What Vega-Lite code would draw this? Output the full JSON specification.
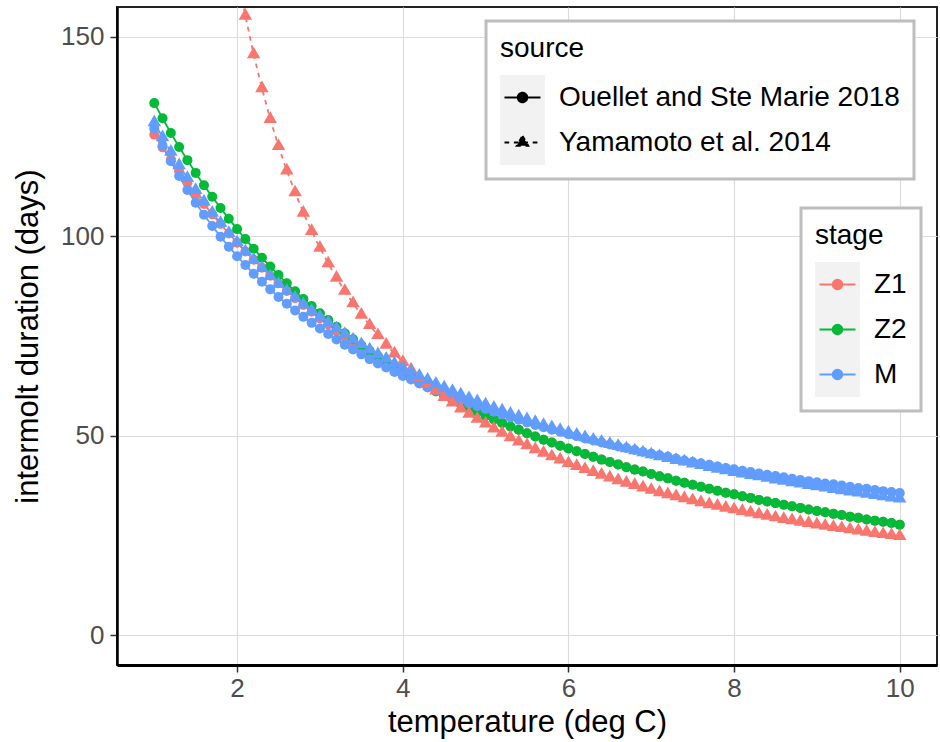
{
"$schema": "https://vega.github.io/schema/vega-lite/v6.json",
"width": 820,
"height": 658,
"autosize": {"type": "none"},
"padding": {"left": 117, "top": 7, "right": 3, "bottom": 77},
"background": "white",
"config": {
"font": "Liberation Sans",
"view": {"stroke": "#222222", "strokeWidth": 2},
"axis": {"grid": true, "gridColor": "#dcdcdc", "gridWidth": 1.2, "domainColor": "#000000", "domainWidth": 2.5, "tickColor": "#333333", "tickSize": 7, "tickWidth": 1.5, "labelFont": "Liberation Sans", "labelFontSize": 26, "labelColor": "#4d4d4d", "titleFont": "Liberation Sans", "titleFontSize": 31, "titleFontWeight": "normal", "titleColor": "#000000"},
"legend": {"titleFont": "Liberation Sans", "titleFontSize": 28, "titleFontWeight": "normal", "titleColor": "#000000", "labelFont": "Liberation Sans", "labelFontSize": 28, "labelColor": "#000000", "padding": 14, "strokeColor": "#bebebe", "strokeWidth": 3, "fillColor": "#ffffff", "symbolSize": 1849, "symbolStrokeWidth": 2, "symbolOpacity": 1, "labelOffset": 14, "rowPadding": 0, "titlePadding": 12, "symbolOffset": 0, "labelLimit": 600}
},
"data": {"values": [
{"t":1.0,"d":125.5,"stage":"Z1","source":"Ouellet and Ste Marie 2018"},{"t":1.1,"d":122.3,"stage":"Z1","source":"Ouellet and Ste Marie 2018"},{"t":1.2,"d":119.2,"stage":"Z1","source":"Ouellet and Ste Marie 2018"},{"t":1.3,"d":116.3,"stage":"Z1","source":"Ouellet and Ste Marie 2018"},{"t":1.4,"d":113.4,"stage":"Z1","source":"Ouellet and Ste Marie 2018"},{"t":1.5,"d":110.7,"stage":"Z1","source":"Ouellet and Ste Marie 2018"},{"t":1.6,"d":108.1,"stage":"Z1","source":"Ouellet and Ste Marie 2018"},{"t":1.7,"d":105.5,"stage":"Z1","source":"Ouellet and Ste Marie 2018"},{"t":1.8,"d":103.1,"stage":"Z1","source":"Ouellet and Ste Marie 2018"},{"t":1.9,"d":100.7,"stage":"Z1","source":"Ouellet and Ste Marie 2018"},
{"t":2.0,"d":98.4,"stage":"Z1","source":"Ouellet and Ste Marie 2018"},{"t":2.1,"d":96.2,"stage":"Z1","source":"Ouellet and Ste Marie 2018"},{"t":2.2,"d":94.1,"stage":"Z1","source":"Ouellet and Ste Marie 2018"},{"t":2.3,"d":92.1,"stage":"Z1","source":"Ouellet and Ste Marie 2018"},{"t":2.4,"d":90.1,"stage":"Z1","source":"Ouellet and Ste Marie 2018"},{"t":2.5,"d":88.2,"stage":"Z1","source":"Ouellet and Ste Marie 2018"},{"t":2.6,"d":86.3,"stage":"Z1","source":"Ouellet and Ste Marie 2018"},{"t":2.7,"d":84.5,"stage":"Z1","source":"Ouellet and Ste Marie 2018"},{"t":2.8,"d":82.8,"stage":"Z1","source":"Ouellet and Ste Marie 2018"},{"t":2.9,"d":81.1,"stage":"Z1","source":"Ouellet and Ste Marie 2018"},
{"t":3.0,"d":79.4,"stage":"Z1","source":"Ouellet and Ste Marie 2018"},{"t":3.1,"d":77.9,"stage":"Z1","source":"Ouellet and Ste Marie 2018"},{"t":3.2,"d":76.3,"stage":"Z1","source":"Ouellet and Ste Marie 2018"},{"t":3.3,"d":74.8,"stage":"Z1","source":"Ouellet and Ste Marie 2018"},{"t":3.4,"d":73.4,"stage":"Z1","source":"Ouellet and Ste Marie 2018"},{"t":3.5,"d":72.0,"stage":"Z1","source":"Ouellet and Ste Marie 2018"},{"t":3.6,"d":70.6,"stage":"Z1","source":"Ouellet and Ste Marie 2018"},{"t":3.7,"d":69.3,"stage":"Z1","source":"Ouellet and Ste Marie 2018"},{"t":3.8,"d":68.0,"stage":"Z1","source":"Ouellet and Ste Marie 2018"},{"t":3.9,"d":66.8,"stage":"Z1","source":"Ouellet and Ste Marie 2018"},
{"t":4.0,"d":65.6,"stage":"Z1","source":"Ouellet and Ste Marie 2018"},{"t":4.1,"d":64.4,"stage":"Z1","source":"Ouellet and Ste Marie 2018"},{"t":4.2,"d":63.3,"stage":"Z1","source":"Ouellet and Ste Marie 2018"},{"t":4.3,"d":62.1,"stage":"Z1","source":"Ouellet and Ste Marie 2018"},{"t":4.4,"d":61.1,"stage":"Z1","source":"Ouellet and Ste Marie 2018"},{"t":4.5,"d":60.0,"stage":"Z1","source":"Ouellet and Ste Marie 2018"},{"t":4.6,"d":59.0,"stage":"Z1","source":"Ouellet and Ste Marie 2018"},{"t":4.7,"d":58.0,"stage":"Z1","source":"Ouellet and Ste Marie 2018"},{"t":4.8,"d":57.0,"stage":"Z1","source":"Ouellet and Ste Marie 2018"},{"t":4.9,"d":56.0,"stage":"Z1","source":"Ouellet and Ste Marie 2018"},
{"t":5.0,"d":55.0,"stage":"Z1","source":"Ouellet and Ste Marie 2018"},{"t":5.1,"d":54.1,"stage":"Z1","source":"Ouellet and Ste Marie 2018"},{"t":5.2,"d":53.2,"stage":"Z1","source":"Ouellet and Ste Marie 2018"},{"t":5.3,"d":52.3,"stage":"Z1","source":"Ouellet and Ste Marie 2018"},{"t":5.4,"d":51.5,"stage":"Z1","source":"Ouellet and Ste Marie 2018"},{"t":5.5,"d":50.6,"stage":"Z1","source":"Ouellet and Ste Marie 2018"},{"t":5.6,"d":49.8,"stage":"Z1","source":"Ouellet and Ste Marie 2018"},{"t":5.7,"d":49.0,"stage":"Z1","source":"Ouellet and Ste Marie 2018"},{"t":5.8,"d":48.3,"stage":"Z1","source":"Ouellet and Ste Marie 2018"},{"t":5.9,"d":47.5,"stage":"Z1","source":"Ouellet and Ste Marie 2018"},
{"t":6.0,"d":46.8,"stage":"Z1","source":"Ouellet and Ste Marie 2018"},{"t":6.1,"d":46.1,"stage":"Z1","source":"Ouellet and Ste Marie 2018"},{"t":6.2,"d":45.4,"stage":"Z1","source":"Ouellet and Ste Marie 2018"},{"t":6.3,"d":44.7,"stage":"Z1","source":"Ouellet and Ste Marie 2018"},{"t":6.4,"d":44.0,"stage":"Z1","source":"Ouellet and Ste Marie 2018"},{"t":6.5,"d":43.4,"stage":"Z1","source":"Ouellet and Ste Marie 2018"},{"t":6.6,"d":42.8,"stage":"Z1","source":"Ouellet and Ste Marie 2018"},{"t":6.7,"d":42.1,"stage":"Z1","source":"Ouellet and Ste Marie 2018"},{"t":6.8,"d":41.5,"stage":"Z1","source":"Ouellet and Ste Marie 2018"},{"t":6.9,"d":41.0,"stage":"Z1","source":"Ouellet and Ste Marie 2018"},
{"t":7.0,"d":40.4,"stage":"Z1","source":"Ouellet and Ste Marie 2018"},{"t":7.1,"d":39.8,"stage":"Z1","source":"Ouellet and Ste Marie 2018"},{"t":7.2,"d":39.3,"stage":"Z1","source":"Ouellet and Ste Marie 2018"},{"t":7.3,"d":38.7,"stage":"Z1","source":"Ouellet and Ste Marie 2018"},{"t":7.4,"d":38.2,"stage":"Z1","source":"Ouellet and Ste Marie 2018"},{"t":7.5,"d":37.7,"stage":"Z1","source":"Ouellet and Ste Marie 2018"},{"t":7.6,"d":37.2,"stage":"Z1","source":"Ouellet and Ste Marie 2018"},{"t":7.7,"d":36.7,"stage":"Z1","source":"Ouellet and Ste Marie 2018"},{"t":7.8,"d":36.2,"stage":"Z1","source":"Ouellet and Ste Marie 2018"},{"t":7.9,"d":35.7,"stage":"Z1","source":"Ouellet and Ste Marie 2018"},
{"t":8.0,"d":35.3,"stage":"Z1","source":"Ouellet and Ste Marie 2018"},{"t":8.1,"d":34.8,"stage":"Z1","source":"Ouellet and Ste Marie 2018"},{"t":8.2,"d":34.4,"stage":"Z1","source":"Ouellet and Ste Marie 2018"},{"t":8.3,"d":33.9,"stage":"Z1","source":"Ouellet and Ste Marie 2018"},{"t":8.4,"d":33.5,"stage":"Z1","source":"Ouellet and Ste Marie 2018"},{"t":8.5,"d":33.1,"stage":"Z1","source":"Ouellet and Ste Marie 2018"},{"t":8.6,"d":32.7,"stage":"Z1","source":"Ouellet and Ste Marie 2018"},{"t":8.7,"d":32.3,"stage":"Z1","source":"Ouellet and Ste Marie 2018"},{"t":8.8,"d":31.9,"stage":"Z1","source":"Ouellet and Ste Marie 2018"},{"t":8.9,"d":31.5,"stage":"Z1","source":"Ouellet and Ste Marie 2018"},
{"t":9.0,"d":31.1,"stage":"Z1","source":"Ouellet and Ste Marie 2018"},{"t":9.1,"d":30.8,"stage":"Z1","source":"Ouellet and Ste Marie 2018"},{"t":9.2,"d":30.4,"stage":"Z1","source":"Ouellet and Ste Marie 2018"},{"t":9.3,"d":30.1,"stage":"Z1","source":"Ouellet and Ste Marie 2018"},{"t":9.4,"d":29.7,"stage":"Z1","source":"Ouellet and Ste Marie 2018"},{"t":9.5,"d":29.4,"stage":"Z1","source":"Ouellet and Ste Marie 2018"},{"t":9.6,"d":29.0,"stage":"Z1","source":"Ouellet and Ste Marie 2018"},{"t":9.7,"d":28.7,"stage":"Z1","source":"Ouellet and Ste Marie 2018"},{"t":9.8,"d":28.4,"stage":"Z1","source":"Ouellet and Ste Marie 2018"},{"t":9.9,"d":28.1,"stage":"Z1","source":"Ouellet and Ste Marie 2018"},
{"t":10.0,"d":27.7,"stage":"Z1","source":"Ouellet and Ste Marie 2018"},
{"t":1.0,"d":133.4,"stage":"Z2","source":"Ouellet and Ste Marie 2018"},{"t":1.1,"d":129.6,"stage":"Z2","source":"Ouellet and Ste Marie 2018"},{"t":1.2,"d":125.9,"stage":"Z2","source":"Ouellet and Ste Marie 2018"},{"t":1.3,"d":122.4,"stage":"Z2","source":"Ouellet and Ste Marie 2018"},{"t":1.4,"d":119.1,"stage":"Z2","source":"Ouellet and Ste Marie 2018"},{"t":1.5,"d":115.9,"stage":"Z2","source":"Ouellet and Ste Marie 2018"},{"t":1.6,"d":112.8,"stage":"Z2","source":"Ouellet and Ste Marie 2018"},{"t":1.7,"d":109.9,"stage":"Z2","source":"Ouellet and Ste Marie 2018"},{"t":1.8,"d":107.1,"stage":"Z2","source":"Ouellet and Ste Marie 2018"},{"t":1.9,"d":104.4,"stage":"Z2","source":"Ouellet and Ste Marie 2018"},
{"t":2.0,"d":101.8,"stage":"Z2","source":"Ouellet and Ste Marie 2018"},{"t":2.1,"d":99.3,"stage":"Z2","source":"Ouellet and Ste Marie 2018"},{"t":2.2,"d":96.9,"stage":"Z2","source":"Ouellet and Ste Marie 2018"},{"t":2.3,"d":94.6,"stage":"Z2","source":"Ouellet and Ste Marie 2018"},{"t":2.4,"d":92.4,"stage":"Z2","source":"Ouellet and Ste Marie 2018"},{"t":2.5,"d":90.3,"stage":"Z2","source":"Ouellet and Ste Marie 2018"},{"t":2.6,"d":88.2,"stage":"Z2","source":"Ouellet and Ste Marie 2018"},{"t":2.7,"d":86.2,"stage":"Z2","source":"Ouellet and Ste Marie 2018"},{"t":2.8,"d":84.3,"stage":"Z2","source":"Ouellet and Ste Marie 2018"},{"t":2.9,"d":82.5,"stage":"Z2","source":"Ouellet and Ste Marie 2018"},
{"t":3.0,"d":80.7,"stage":"Z2","source":"Ouellet and Ste Marie 2018"},{"t":3.1,"d":79.0,"stage":"Z2","source":"Ouellet and Ste Marie 2018"},{"t":3.2,"d":77.3,"stage":"Z2","source":"Ouellet and Ste Marie 2018"},{"t":3.3,"d":75.7,"stage":"Z2","source":"Ouellet and Ste Marie 2018"},{"t":3.4,"d":74.2,"stage":"Z2","source":"Ouellet and Ste Marie 2018"},{"t":3.5,"d":72.7,"stage":"Z2","source":"Ouellet and Ste Marie 2018"},{"t":3.6,"d":71.3,"stage":"Z2","source":"Ouellet and Ste Marie 2018"},{"t":3.7,"d":69.9,"stage":"Z2","source":"Ouellet and Ste Marie 2018"},{"t":3.8,"d":68.5,"stage":"Z2","source":"Ouellet and Ste Marie 2018"},{"t":3.9,"d":67.2,"stage":"Z2","source":"Ouellet and Ste Marie 2018"},
{"t":4.0,"d":65.9,"stage":"Z2","source":"Ouellet and Ste Marie 2018"},{"t":4.1,"d":64.7,"stage":"Z2","source":"Ouellet and Ste Marie 2018"},{"t":4.2,"d":63.5,"stage":"Z2","source":"Ouellet and Ste Marie 2018"},{"t":4.3,"d":62.3,"stage":"Z2","source":"Ouellet and Ste Marie 2018"},{"t":4.4,"d":61.2,"stage":"Z2","source":"Ouellet and Ste Marie 2018"},{"t":4.5,"d":60.1,"stage":"Z2","source":"Ouellet and Ste Marie 2018"},{"t":4.6,"d":59.0,"stage":"Z2","source":"Ouellet and Ste Marie 2018"},{"t":4.7,"d":58.0,"stage":"Z2","source":"Ouellet and Ste Marie 2018"},{"t":4.8,"d":57.0,"stage":"Z2","source":"Ouellet and Ste Marie 2018"},{"t":4.9,"d":56.0,"stage":"Z2","source":"Ouellet and Ste Marie 2018"},
{"t":5.0,"d":55.0,"stage":"Z2","source":"Ouellet and Ste Marie 2018"},{"t":5.1,"d":54.1,"stage":"Z2","source":"Ouellet and Ste Marie 2018"},{"t":5.2,"d":53.2,"stage":"Z2","source":"Ouellet and Ste Marie 2018"},{"t":5.3,"d":52.3,"stage":"Z2","source":"Ouellet and Ste Marie 2018"},{"t":5.4,"d":51.5,"stage":"Z2","source":"Ouellet and Ste Marie 2018"},{"t":5.5,"d":50.6,"stage":"Z2","source":"Ouellet and Ste Marie 2018"},{"t":5.6,"d":49.8,"stage":"Z2","source":"Ouellet and Ste Marie 2018"},{"t":5.7,"d":49.0,"stage":"Z2","source":"Ouellet and Ste Marie 2018"},{"t":5.8,"d":48.3,"stage":"Z2","source":"Ouellet and Ste Marie 2018"},{"t":5.9,"d":47.5,"stage":"Z2","source":"Ouellet and Ste Marie 2018"},
{"t":6.0,"d":46.8,"stage":"Z2","source":"Ouellet and Ste Marie 2018"},{"t":6.1,"d":46.1,"stage":"Z2","source":"Ouellet and Ste Marie 2018"},{"t":6.2,"d":45.4,"stage":"Z2","source":"Ouellet and Ste Marie 2018"},{"t":6.3,"d":44.7,"stage":"Z2","source":"Ouellet and Ste Marie 2018"},{"t":6.4,"d":44.0,"stage":"Z2","source":"Ouellet and Ste Marie 2018"},{"t":6.5,"d":43.4,"stage":"Z2","source":"Ouellet and Ste Marie 2018"},{"t":6.6,"d":42.8,"stage":"Z2","source":"Ouellet and Ste Marie 2018"},{"t":6.7,"d":42.1,"stage":"Z2","source":"Ouellet and Ste Marie 2018"},{"t":6.8,"d":41.5,"stage":"Z2","source":"Ouellet and Ste Marie 2018"},{"t":6.9,"d":41.0,"stage":"Z2","source":"Ouellet and Ste Marie 2018"},
{"t":7.0,"d":40.4,"stage":"Z2","source":"Ouellet and Ste Marie 2018"},{"t":7.1,"d":39.8,"stage":"Z2","source":"Ouellet and Ste Marie 2018"},{"t":7.2,"d":39.3,"stage":"Z2","source":"Ouellet and Ste Marie 2018"},{"t":7.3,"d":38.7,"stage":"Z2","source":"Ouellet and Ste Marie 2018"},{"t":7.4,"d":38.2,"stage":"Z2","source":"Ouellet and Ste Marie 2018"},{"t":7.5,"d":37.7,"stage":"Z2","source":"Ouellet and Ste Marie 2018"},{"t":7.6,"d":37.2,"stage":"Z2","source":"Ouellet and Ste Marie 2018"},{"t":7.7,"d":36.7,"stage":"Z2","source":"Ouellet and Ste Marie 2018"},{"t":7.8,"d":36.2,"stage":"Z2","source":"Ouellet and Ste Marie 2018"},{"t":7.9,"d":35.7,"stage":"Z2","source":"Ouellet and Ste Marie 2018"},
{"t":8.0,"d":35.3,"stage":"Z2","source":"Ouellet and Ste Marie 2018"},{"t":8.1,"d":34.8,"stage":"Z2","source":"Ouellet and Ste Marie 2018"},{"t":8.2,"d":34.4,"stage":"Z2","source":"Ouellet and Ste Marie 2018"},{"t":8.3,"d":33.9,"stage":"Z2","source":"Ouellet and Ste Marie 2018"},{"t":8.4,"d":33.5,"stage":"Z2","source":"Ouellet and Ste Marie 2018"},{"t":8.5,"d":33.1,"stage":"Z2","source":"Ouellet and Ste Marie 2018"},{"t":8.6,"d":32.7,"stage":"Z2","source":"Ouellet and Ste Marie 2018"},{"t":8.7,"d":32.3,"stage":"Z2","source":"Ouellet and Ste Marie 2018"},{"t":8.8,"d":31.9,"stage":"Z2","source":"Ouellet and Ste Marie 2018"},{"t":8.9,"d":31.5,"stage":"Z2","source":"Ouellet and Ste Marie 2018"},
{"t":9.0,"d":31.1,"stage":"Z2","source":"Ouellet and Ste Marie 2018"},{"t":9.1,"d":30.8,"stage":"Z2","source":"Ouellet and Ste Marie 2018"},{"t":9.2,"d":30.4,"stage":"Z2","source":"Ouellet and Ste Marie 2018"},{"t":9.3,"d":30.1,"stage":"Z2","source":"Ouellet and Ste Marie 2018"},{"t":9.4,"d":29.7,"stage":"Z2","source":"Ouellet and Ste Marie 2018"},{"t":9.5,"d":29.4,"stage":"Z2","source":"Ouellet and Ste Marie 2018"},{"t":9.6,"d":29.0,"stage":"Z2","source":"Ouellet and Ste Marie 2018"},{"t":9.7,"d":28.7,"stage":"Z2","source":"Ouellet and Ste Marie 2018"},{"t":9.8,"d":28.4,"stage":"Z2","source":"Ouellet and Ste Marie 2018"},{"t":9.9,"d":28.1,"stage":"Z2","source":"Ouellet and Ste Marie 2018"},
{"t":10.0,"d":27.7,"stage":"Z2","source":"Ouellet and Ste Marie 2018"},
{"t":1.0,"d":127.0,"stage":"M","source":"Ouellet and Ste Marie 2018"},{"t":1.1,"d":122.7,"stage":"M","source":"Ouellet and Ste Marie 2018"},{"t":1.2,"d":118.8,"stage":"M","source":"Ouellet and Ste Marie 2018"},{"t":1.3,"d":115.1,"stage":"M","source":"Ouellet and Ste Marie 2018"},{"t":1.4,"d":111.6,"stage":"M","source":"Ouellet and Ste Marie 2018"},{"t":1.5,"d":108.4,"stage":"M","source":"Ouellet and Ste Marie 2018"},{"t":1.6,"d":105.4,"stage":"M","source":"Ouellet and Ste Marie 2018"},{"t":1.7,"d":102.6,"stage":"M","source":"Ouellet and Ste Marie 2018"},{"t":1.8,"d":99.9,"stage":"M","source":"Ouellet and Ste Marie 2018"},{"t":1.9,"d":97.4,"stage":"M","source":"Ouellet and Ste Marie 2018"},
{"t":2.0,"d":95.0,"stage":"M","source":"Ouellet and Ste Marie 2018"},{"t":2.1,"d":92.8,"stage":"M","source":"Ouellet and Ste Marie 2018"},{"t":2.2,"d":90.6,"stage":"M","source":"Ouellet and Ste Marie 2018"},{"t":2.3,"d":88.6,"stage":"M","source":"Ouellet and Ste Marie 2018"},{"t":2.4,"d":86.7,"stage":"M","source":"Ouellet and Ste Marie 2018"},{"t":2.5,"d":84.8,"stage":"M","source":"Ouellet and Ste Marie 2018"},{"t":2.6,"d":83.1,"stage":"M","source":"Ouellet and Ste Marie 2018"},{"t":2.7,"d":81.4,"stage":"M","source":"Ouellet and Ste Marie 2018"},{"t":2.8,"d":79.8,"stage":"M","source":"Ouellet and Ste Marie 2018"},{"t":2.9,"d":78.3,"stage":"M","source":"Ouellet and Ste Marie 2018"},
{"t":3.0,"d":76.9,"stage":"M","source":"Ouellet and Ste Marie 2018"},{"t":3.1,"d":75.5,"stage":"M","source":"Ouellet and Ste Marie 2018"},{"t":3.2,"d":74.1,"stage":"M","source":"Ouellet and Ste Marie 2018"},{"t":3.3,"d":72.8,"stage":"M","source":"Ouellet and Ste Marie 2018"},{"t":3.4,"d":71.6,"stage":"M","source":"Ouellet and Ste Marie 2018"},{"t":3.5,"d":70.4,"stage":"M","source":"Ouellet and Ste Marie 2018"},{"t":3.6,"d":69.2,"stage":"M","source":"Ouellet and Ste Marie 2018"},{"t":3.7,"d":68.1,"stage":"M","source":"Ouellet and Ste Marie 2018"},{"t":3.8,"d":67.1,"stage":"M","source":"Ouellet and Ste Marie 2018"},{"t":3.9,"d":66.0,"stage":"M","source":"Ouellet and Ste Marie 2018"},
{"t":4.0,"d":65.0,"stage":"M","source":"Ouellet and Ste Marie 2018"},{"t":4.1,"d":64.1,"stage":"M","source":"Ouellet and Ste Marie 2018"},{"t":4.2,"d":63.1,"stage":"M","source":"Ouellet and Ste Marie 2018"},{"t":4.3,"d":62.2,"stage":"M","source":"Ouellet and Ste Marie 2018"},{"t":4.4,"d":61.4,"stage":"M","source":"Ouellet and Ste Marie 2018"},{"t":4.5,"d":60.5,"stage":"M","source":"Ouellet and Ste Marie 2018"},{"t":4.6,"d":59.7,"stage":"M","source":"Ouellet and Ste Marie 2018"},{"t":4.7,"d":58.9,"stage":"M","source":"Ouellet and Ste Marie 2018"},{"t":4.8,"d":58.1,"stage":"M","source":"Ouellet and Ste Marie 2018"},{"t":4.9,"d":57.4,"stage":"M","source":"Ouellet and Ste Marie 2018"},
{"t":5.0,"d":56.7,"stage":"M","source":"Ouellet and Ste Marie 2018"},{"t":5.1,"d":56.0,"stage":"M","source":"Ouellet and Ste Marie 2018"},{"t":5.2,"d":55.3,"stage":"M","source":"Ouellet and Ste Marie 2018"},{"t":5.3,"d":54.6,"stage":"M","source":"Ouellet and Ste Marie 2018"},{"t":5.4,"d":54.0,"stage":"M","source":"Ouellet and Ste Marie 2018"},{"t":5.5,"d":53.3,"stage":"M","source":"Ouellet and Ste Marie 2018"},{"t":5.6,"d":52.7,"stage":"M","source":"Ouellet and Ste Marie 2018"},{"t":5.7,"d":52.1,"stage":"M","source":"Ouellet and Ste Marie 2018"},{"t":5.8,"d":51.5,"stage":"M","source":"Ouellet and Ste Marie 2018"},{"t":5.9,"d":51.0,"stage":"M","source":"Ouellet and Ste Marie 2018"},
{"t":6.0,"d":50.4,"stage":"M","source":"Ouellet and Ste Marie 2018"},{"t":6.1,"d":49.9,"stage":"M","source":"Ouellet and Ste Marie 2018"},{"t":6.2,"d":49.3,"stage":"M","source":"Ouellet and Ste Marie 2018"},{"t":6.3,"d":48.8,"stage":"M","source":"Ouellet and Ste Marie 2018"},{"t":6.4,"d":48.3,"stage":"M","source":"Ouellet and Ste Marie 2018"},{"t":6.5,"d":47.8,"stage":"M","source":"Ouellet and Ste Marie 2018"},{"t":6.6,"d":47.3,"stage":"M","source":"Ouellet and Ste Marie 2018"},{"t":6.7,"d":46.9,"stage":"M","source":"Ouellet and Ste Marie 2018"},{"t":6.8,"d":46.4,"stage":"M","source":"Ouellet and Ste Marie 2018"},{"t":6.9,"d":45.9,"stage":"M","source":"Ouellet and Ste Marie 2018"},
{"t":7.0,"d":45.5,"stage":"M","source":"Ouellet and Ste Marie 2018"},{"t":7.1,"d":45.1,"stage":"M","source":"Ouellet and Ste Marie 2018"},{"t":7.2,"d":44.7,"stage":"M","source":"Ouellet and Ste Marie 2018"},{"t":7.3,"d":44.2,"stage":"M","source":"Ouellet and Ste Marie 2018"},{"t":7.4,"d":43.8,"stage":"M","source":"Ouellet and Ste Marie 2018"},{"t":7.5,"d":43.4,"stage":"M","source":"Ouellet and Ste Marie 2018"},{"t":7.6,"d":43.1,"stage":"M","source":"Ouellet and Ste Marie 2018"},{"t":7.7,"d":42.7,"stage":"M","source":"Ouellet and Ste Marie 2018"},{"t":7.8,"d":42.3,"stage":"M","source":"Ouellet and Ste Marie 2018"},{"t":7.9,"d":41.9,"stage":"M","source":"Ouellet and Ste Marie 2018"},
{"t":8.0,"d":41.6,"stage":"M","source":"Ouellet and Ste Marie 2018"},{"t":8.1,"d":41.2,"stage":"M","source":"Ouellet and Ste Marie 2018"},{"t":8.2,"d":40.9,"stage":"M","source":"Ouellet and Ste Marie 2018"},{"t":8.3,"d":40.5,"stage":"M","source":"Ouellet and Ste Marie 2018"},{"t":8.4,"d":40.2,"stage":"M","source":"Ouellet and Ste Marie 2018"},{"t":8.5,"d":39.9,"stage":"M","source":"Ouellet and Ste Marie 2018"},{"t":8.6,"d":39.6,"stage":"M","source":"Ouellet and Ste Marie 2018"},{"t":8.7,"d":39.2,"stage":"M","source":"Ouellet and Ste Marie 2018"},{"t":8.8,"d":38.9,"stage":"M","source":"Ouellet and Ste Marie 2018"},{"t":8.9,"d":38.6,"stage":"M","source":"Ouellet and Ste Marie 2018"},
{"t":9.0,"d":38.3,"stage":"M","source":"Ouellet and Ste Marie 2018"},{"t":9.1,"d":38.0,"stage":"M","source":"Ouellet and Ste Marie 2018"},{"t":9.2,"d":37.8,"stage":"M","source":"Ouellet and Ste Marie 2018"},{"t":9.3,"d":37.5,"stage":"M","source":"Ouellet and Ste Marie 2018"},{"t":9.4,"d":37.2,"stage":"M","source":"Ouellet and Ste Marie 2018"},{"t":9.5,"d":36.9,"stage":"M","source":"Ouellet and Ste Marie 2018"},{"t":9.6,"d":36.7,"stage":"M","source":"Ouellet and Ste Marie 2018"},{"t":9.7,"d":36.4,"stage":"M","source":"Ouellet and Ste Marie 2018"},{"t":9.8,"d":36.1,"stage":"M","source":"Ouellet and Ste Marie 2018"},{"t":9.9,"d":35.9,"stage":"M","source":"Ouellet and Ste Marie 2018"},
{"t":10.0,"d":35.6,"stage":"M","source":"Ouellet and Ste Marie 2018"},
{"t":2.0,"d":166.4,"stage":"Z1","source":"Yamamoto et al. 2014"},{"t":2.1,"d":155.3,"stage":"Z1","source":"Yamamoto et al. 2014"},{"t":2.2,"d":145.6,"stage":"Z1","source":"Yamamoto et al. 2014"},{"t":2.3,"d":137.1,"stage":"Z1","source":"Yamamoto et al. 2014"},{"t":2.4,"d":129.4,"stage":"Z1","source":"Yamamoto et al. 2014"},{"t":2.5,"d":122.6,"stage":"Z1","source":"Yamamoto et al. 2014"},{"t":2.6,"d":116.5,"stage":"Z1","source":"Yamamoto et al. 2014"},{"t":2.7,"d":111.0,"stage":"Z1","source":"Yamamoto et al. 2014"},{"t":2.8,"d":105.9,"stage":"Z1","source":"Yamamoto et al. 2014"},{"t":2.9,"d":101.3,"stage":"Z1","source":"Yamamoto et al. 2014"},
{"t":3.0,"d":97.1,"stage":"Z1","source":"Yamamoto et al. 2014"},{"t":3.1,"d":93.2,"stage":"Z1","source":"Yamamoto et al. 2014"},{"t":3.2,"d":89.6,"stage":"Z1","source":"Yamamoto et al. 2014"},{"t":3.3,"d":86.3,"stage":"Z1","source":"Yamamoto et al. 2014"},{"t":3.4,"d":83.2,"stage":"Z1","source":"Yamamoto et al. 2014"},{"t":3.5,"d":80.3,"stage":"Z1","source":"Yamamoto et al. 2014"},{"t":3.6,"d":77.7,"stage":"Z1","source":"Yamamoto et al. 2014"},{"t":3.7,"d":75.2,"stage":"Z1","source":"Yamamoto et al. 2014"},{"t":3.8,"d":72.8,"stage":"Z1","source":"Yamamoto et al. 2014"},{"t":3.9,"d":70.6,"stage":"Z1","source":"Yamamoto et al. 2014"},
{"t":4.0,"d":68.5,"stage":"Z1","source":"Yamamoto et al. 2014"},{"t":4.1,"d":66.6,"stage":"Z1","source":"Yamamoto et al. 2014"},{"t":4.2,"d":64.7,"stage":"Z1","source":"Yamamoto et al. 2014"},{"t":4.3,"d":63.0,"stage":"Z1","source":"Yamamoto et al. 2014"},{"t":4.4,"d":61.3,"stage":"Z1","source":"Yamamoto et al. 2014"},{"t":4.5,"d":59.7,"stage":"Z1","source":"Yamamoto et al. 2014"},{"t":4.6,"d":58.3,"stage":"Z1","source":"Yamamoto et al. 2014"},{"t":4.7,"d":56.8,"stage":"Z1","source":"Yamamoto et al. 2014"},{"t":4.8,"d":55.5,"stage":"Z1","source":"Yamamoto et al. 2014"},{"t":4.9,"d":54.2,"stage":"Z1","source":"Yamamoto et al. 2014"},
{"t":5.0,"d":53.0,"stage":"Z1","source":"Yamamoto et al. 2014"},{"t":5.1,"d":51.8,"stage":"Z1","source":"Yamamoto et al. 2014"},{"t":5.2,"d":50.7,"stage":"Z1","source":"Yamamoto et al. 2014"},{"t":5.3,"d":49.6,"stage":"Z1","source":"Yamamoto et al. 2014"},{"t":5.4,"d":48.5,"stage":"Z1","source":"Yamamoto et al. 2014"},{"t":5.5,"d":47.6,"stage":"Z1","source":"Yamamoto et al. 2014"},{"t":5.6,"d":46.6,"stage":"Z1","source":"Yamamoto et al. 2014"},{"t":5.7,"d":45.7,"stage":"Z1","source":"Yamamoto et al. 2014"},{"t":5.8,"d":44.8,"stage":"Z1","source":"Yamamoto et al. 2014"},{"t":5.9,"d":44.0,"stage":"Z1","source":"Yamamoto et al. 2014"},
{"t":6.0,"d":43.1,"stage":"Z1","source":"Yamamoto et al. 2014"},{"t":6.1,"d":42.4,"stage":"Z1","source":"Yamamoto et al. 2014"},{"t":6.2,"d":41.6,"stage":"Z1","source":"Yamamoto et al. 2014"},{"t":6.3,"d":40.9,"stage":"Z1","source":"Yamamoto et al. 2014"},{"t":6.4,"d":40.2,"stage":"Z1","source":"Yamamoto et al. 2014"},{"t":6.5,"d":39.5,"stage":"Z1","source":"Yamamoto et al. 2014"},{"t":6.6,"d":38.8,"stage":"Z1","source":"Yamamoto et al. 2014"},{"t":6.7,"d":38.2,"stage":"Z1","source":"Yamamoto et al. 2014"},{"t":6.8,"d":37.6,"stage":"Z1","source":"Yamamoto et al. 2014"},{"t":6.9,"d":37.0,"stage":"Z1","source":"Yamamoto et al. 2014"},
{"t":7.0,"d":36.4,"stage":"Z1","source":"Yamamoto et al. 2014"},{"t":7.1,"d":35.8,"stage":"Z1","source":"Yamamoto et al. 2014"},{"t":7.2,"d":35.3,"stage":"Z1","source":"Yamamoto et al. 2014"},{"t":7.3,"d":34.8,"stage":"Z1","source":"Yamamoto et al. 2014"},{"t":7.4,"d":34.3,"stage":"Z1","source":"Yamamoto et al. 2014"},{"t":7.5,"d":33.8,"stage":"Z1","source":"Yamamoto et al. 2014"},{"t":7.6,"d":33.3,"stage":"Z1","source":"Yamamoto et al. 2014"},{"t":7.7,"d":32.8,"stage":"Z1","source":"Yamamoto et al. 2014"},{"t":7.8,"d":32.4,"stage":"Z1","source":"Yamamoto et al. 2014"},{"t":7.9,"d":31.9,"stage":"Z1","source":"Yamamoto et al. 2014"},
{"t":8.0,"d":31.5,"stage":"Z1","source":"Yamamoto et al. 2014"},{"t":8.1,"d":31.1,"stage":"Z1","source":"Yamamoto et al. 2014"},{"t":8.2,"d":30.7,"stage":"Z1","source":"Yamamoto et al. 2014"},{"t":8.3,"d":30.3,"stage":"Z1","source":"Yamamoto et al. 2014"},{"t":8.4,"d":29.9,"stage":"Z1","source":"Yamamoto et al. 2014"},{"t":8.5,"d":29.5,"stage":"Z1","source":"Yamamoto et al. 2014"},{"t":8.6,"d":29.1,"stage":"Z1","source":"Yamamoto et al. 2014"},{"t":8.7,"d":28.8,"stage":"Z1","source":"Yamamoto et al. 2014"},{"t":8.8,"d":28.4,"stage":"Z1","source":"Yamamoto et al. 2014"},{"t":8.9,"d":28.1,"stage":"Z1","source":"Yamamoto et al. 2014"},
{"t":9.0,"d":27.7,"stage":"Z1","source":"Yamamoto et al. 2014"},{"t":9.1,"d":27.4,"stage":"Z1","source":"Yamamoto et al. 2014"},{"t":9.2,"d":27.1,"stage":"Z1","source":"Yamamoto et al. 2014"},{"t":9.3,"d":26.8,"stage":"Z1","source":"Yamamoto et al. 2014"},{"t":9.4,"d":26.5,"stage":"Z1","source":"Yamamoto et al. 2014"},{"t":9.5,"d":26.2,"stage":"Z1","source":"Yamamoto et al. 2014"},{"t":9.6,"d":25.9,"stage":"Z1","source":"Yamamoto et al. 2014"},{"t":9.7,"d":25.6,"stage":"Z1","source":"Yamamoto et al. 2014"},{"t":9.8,"d":25.3,"stage":"Z1","source":"Yamamoto et al. 2014"},{"t":9.9,"d":25.1,"stage":"Z1","source":"Yamamoto et al. 2014"},
{"t":10.0,"d":24.8,"stage":"Z1","source":"Yamamoto et al. 2014"},
{"t":1.0,"d":128.6,"stage":"M","source":"Yamamoto et al. 2014"},{"t":1.1,"d":124.8,"stage":"M","source":"Yamamoto et al. 2014"},{"t":1.2,"d":121.2,"stage":"M","source":"Yamamoto et al. 2014"},{"t":1.3,"d":117.8,"stage":"M","source":"Yamamoto et al. 2014"},{"t":1.4,"d":114.6,"stage":"M","source":"Yamamoto et al. 2014"},{"t":1.5,"d":111.6,"stage":"M","source":"Yamamoto et al. 2014"},{"t":1.6,"d":108.7,"stage":"M","source":"Yamamoto et al. 2014"},{"t":1.7,"d":105.9,"stage":"M","source":"Yamamoto et al. 2014"},{"t":1.8,"d":103.3,"stage":"M","source":"Yamamoto et al. 2014"},{"t":1.9,"d":100.8,"stage":"M","source":"Yamamoto et al. 2014"},
{"t":2.0,"d":98.5,"stage":"M","source":"Yamamoto et al. 2014"},{"t":2.1,"d":96.2,"stage":"M","source":"Yamamoto et al. 2014"},{"t":2.2,"d":94.1,"stage":"M","source":"Yamamoto et al. 2014"},{"t":2.3,"d":92.0,"stage":"M","source":"Yamamoto et al. 2014"},{"t":2.4,"d":90.0,"stage":"M","source":"Yamamoto et al. 2014"},{"t":2.5,"d":88.1,"stage":"M","source":"Yamamoto et al. 2014"},{"t":2.6,"d":86.3,"stage":"M","source":"Yamamoto et al. 2014"},{"t":2.7,"d":84.6,"stage":"M","source":"Yamamoto et al. 2014"},{"t":2.8,"d":82.9,"stage":"M","source":"Yamamoto et al. 2014"},{"t":2.9,"d":81.3,"stage":"M","source":"Yamamoto et al. 2014"},
{"t":3.0,"d":79.8,"stage":"M","source":"Yamamoto et al. 2014"},{"t":3.1,"d":78.3,"stage":"M","source":"Yamamoto et al. 2014"},{"t":3.2,"d":76.9,"stage":"M","source":"Yamamoto et al. 2014"},{"t":3.3,"d":75.5,"stage":"M","source":"Yamamoto et al. 2014"},{"t":3.4,"d":74.1,"stage":"M","source":"Yamamoto et al. 2014"},{"t":3.5,"d":72.9,"stage":"M","source":"Yamamoto et al. 2014"},{"t":3.6,"d":71.6,"stage":"M","source":"Yamamoto et al. 2014"},{"t":3.7,"d":70.4,"stage":"M","source":"Yamamoto et al. 2014"},{"t":3.8,"d":69.3,"stage":"M","source":"Yamamoto et al. 2014"},{"t":3.9,"d":68.1,"stage":"M","source":"Yamamoto et al. 2014"},
{"t":4.0,"d":67.0,"stage":"M","source":"Yamamoto et al. 2014"},{"t":4.1,"d":66.0,"stage":"M","source":"Yamamoto et al. 2014"},{"t":4.2,"d":65.0,"stage":"M","source":"Yamamoto et al. 2014"},{"t":4.3,"d":64.0,"stage":"M","source":"Yamamoto et al. 2014"},{"t":4.4,"d":63.0,"stage":"M","source":"Yamamoto et al. 2014"},{"t":4.5,"d":62.1,"stage":"M","source":"Yamamoto et al. 2014"},{"t":4.6,"d":61.2,"stage":"M","source":"Yamamoto et al. 2014"},{"t":4.7,"d":60.3,"stage":"M","source":"Yamamoto et al. 2014"},{"t":4.8,"d":59.4,"stage":"M","source":"Yamamoto et al. 2014"},{"t":4.9,"d":58.6,"stage":"M","source":"Yamamoto et al. 2014"},
{"t":5.0,"d":57.8,"stage":"M","source":"Yamamoto et al. 2014"},{"t":5.1,"d":57.0,"stage":"M","source":"Yamamoto et al. 2014"},{"t":5.2,"d":56.3,"stage":"M","source":"Yamamoto et al. 2014"},{"t":5.3,"d":55.5,"stage":"M","source":"Yamamoto et al. 2014"},{"t":5.4,"d":54.8,"stage":"M","source":"Yamamoto et al. 2014"},{"t":5.5,"d":54.1,"stage":"M","source":"Yamamoto et al. 2014"},{"t":5.6,"d":53.4,"stage":"M","source":"Yamamoto et al. 2014"},{"t":5.7,"d":52.7,"stage":"M","source":"Yamamoto et al. 2014"},{"t":5.8,"d":52.1,"stage":"M","source":"Yamamoto et al. 2014"},{"t":5.9,"d":51.4,"stage":"M","source":"Yamamoto et al. 2014"},
{"t":6.0,"d":50.8,"stage":"M","source":"Yamamoto et al. 2014"},{"t":6.1,"d":50.2,"stage":"M","source":"Yamamoto et al. 2014"},{"t":6.2,"d":49.6,"stage":"M","source":"Yamamoto et al. 2014"},{"t":6.3,"d":49.0,"stage":"M","source":"Yamamoto et al. 2014"},{"t":6.4,"d":48.5,"stage":"M","source":"Yamamoto et al. 2014"},{"t":6.5,"d":47.9,"stage":"M","source":"Yamamoto et al. 2014"},{"t":6.6,"d":47.4,"stage":"M","source":"Yamamoto et al. 2014"},{"t":6.7,"d":46.8,"stage":"M","source":"Yamamoto et al. 2014"},{"t":6.8,"d":46.3,"stage":"M","source":"Yamamoto et al. 2014"},{"t":6.9,"d":45.8,"stage":"M","source":"Yamamoto et al. 2014"},
{"t":7.0,"d":45.3,"stage":"M","source":"Yamamoto et al. 2014"},{"t":7.1,"d":44.8,"stage":"M","source":"Yamamoto et al. 2014"},{"t":7.2,"d":44.4,"stage":"M","source":"Yamamoto et al. 2014"},{"t":7.3,"d":43.9,"stage":"M","source":"Yamamoto et al. 2014"},{"t":7.4,"d":43.5,"stage":"M","source":"Yamamoto et al. 2014"},{"t":7.5,"d":43.0,"stage":"M","source":"Yamamoto et al. 2014"},{"t":7.6,"d":42.6,"stage":"M","source":"Yamamoto et al. 2014"},{"t":7.7,"d":42.1,"stage":"M","source":"Yamamoto et al. 2014"},{"t":7.8,"d":41.7,"stage":"M","source":"Yamamoto et al. 2014"},{"t":7.9,"d":41.3,"stage":"M","source":"Yamamoto et al. 2014"},
{"t":8.0,"d":40.9,"stage":"M","source":"Yamamoto et al. 2014"},{"t":8.1,"d":40.5,"stage":"M","source":"Yamamoto et al. 2014"},{"t":8.2,"d":40.1,"stage":"M","source":"Yamamoto et al. 2014"},{"t":8.3,"d":39.8,"stage":"M","source":"Yamamoto et al. 2014"},{"t":8.4,"d":39.4,"stage":"M","source":"Yamamoto et al. 2014"},{"t":8.5,"d":39.0,"stage":"M","source":"Yamamoto et al. 2014"},{"t":8.6,"d":38.7,"stage":"M","source":"Yamamoto et al. 2014"},{"t":8.7,"d":38.3,"stage":"M","source":"Yamamoto et al. 2014"},{"t":8.8,"d":38.0,"stage":"M","source":"Yamamoto et al. 2014"},{"t":8.9,"d":37.6,"stage":"M","source":"Yamamoto et al. 2014"},
{"t":9.0,"d":37.3,"stage":"M","source":"Yamamoto et al. 2014"},{"t":9.1,"d":37.0,"stage":"M","source":"Yamamoto et al. 2014"},{"t":9.2,"d":36.6,"stage":"M","source":"Yamamoto et al. 2014"},{"t":9.3,"d":36.3,"stage":"M","source":"Yamamoto et al. 2014"},{"t":9.4,"d":36.0,"stage":"M","source":"Yamamoto et al. 2014"},{"t":9.5,"d":35.7,"stage":"M","source":"Yamamoto et al. 2014"},{"t":9.6,"d":35.4,"stage":"M","source":"Yamamoto et al. 2014"},{"t":9.7,"d":35.1,"stage":"M","source":"Yamamoto et al. 2014"},{"t":9.8,"d":34.8,"stage":"M","source":"Yamamoto et al. 2014"},{"t":9.9,"d":34.5,"stage":"M","source":"Yamamoto et al. 2014"},
{"t":10.0,"d":34.2,"stage":"M","source":"Yamamoto et al. 2014"}
]},
"encoding": {
"x": {"field": "t", "type": "quantitative", "scale": {"domain": [0.55, 10.45], "nice": false, "zero": false}, "axis": {"title": "temperature (deg C)", "values": [2, 4, 6, 8, 10], "labelPadding": 3, "titlePadding": 6, "domainWidth": 3}},
"y": {"field": "d", "type": "quantitative", "scale": {"domain": [-7.5, 157.5], "nice": false, "zero": false}, "axis": {"title": "intermolt duration (days)", "values": [0, 50, 100, 150], "labelPadding": 6, "titlePadding": 16}}
},
"resolve": {"scale": {"shape": "independent"}, "legend": {"shape": "independent"}},
"layer": [
{"mark": {"type": "line", "clip": true, "strokeWidth": 1.8},
 "encoding": {
  "color": {"field": "stage", "type": "nominal", "scale": {"domain": ["Z1", "Z2", "M"], "range": ["#F8766D", "#00BA38", "#619CFF"]},
   "legend": {"title": "stage", "orient": "none", "legendX": 684, "legendY": 201, "symbolType": "M-0.837,0L0.837,0M0.22,0A0.22,0.22,0,1,1,-0.22,0A0.22,0.22,0,1,1,0.22,0Z",
    "encode": {"entries": {"update": {"fill": {"value": {"gradient": "linear", "x1": 0, "y1": 0, "x2": 1, "y2": 0, "stops": [{"offset": 0, "color": "#f2f2f2"}, {"offset": 0.49, "color": "#f2f2f2"}, {"offset": 0.49, "color": "#ffffff"}, {"offset": 1, "color": "#ffffff"}]}}, "height": {"value": 45}, "noBound": {"value": false}}}, "legend": {"update": {"strokeWidth": {"value": 3}}}}}},
  "strokeDash": {"field": "source", "type": "nominal", "scale": {"domain": ["Ouellet and Ste Marie 2018", "Yamamoto et al. 2014"], "range": [[1, 0], [4.7, 4.7]]},
   "legend": {"title": "source", "orient": "none", "legendX": 369, "legendY": 14,
    "encode": {"entries": {"update": {"fill": {"value": {"gradient": "linear", "x1": 0, "y1": 0, "x2": 1, "y2": 0, "stops": [{"offset": 0, "color": "#f2f2f2"}, {"offset": 0.1126, "color": "#f2f2f2"}, {"offset": 0.1126, "color": "#ffffff"}, {"offset": 1, "color": "#ffffff"}]}}, "height": {"value": 45}, "noBound": {"value": false}}}, "symbols": {"update": {"shape": {"signal": "datum.value === 'Yamamoto et al. 2014' ? 'M-0.837,0L0.837,0M0,-0.307L0.265,0.153L-0.265,0.153Z' : 'M-0.837,0L0.837,0M0.22,0A0.22,0.22,0,1,1,-0.22,0A0.22,0.22,0,1,1,0.22,0Z'"}, "fill": {"value": "#000000"}, "stroke": {"value": "#000000"}, "strokeWidth": {"value": 2}, "size": {"value": 1849}, "opacity": {"value": 1}}}, "legend": {"update": {"strokeWidth": {"value": 3}}}}}}}},
{"mark": {"type": "point", "filled": true, "opacity": 1, "size": 100, "clip": true},
 "encoding": {
  "color": {"field": "stage", "type": "nominal", "scale": {"domain": ["Z1", "Z2", "M"], "range": ["#F8766D", "#00BA38", "#619CFF"]},
   "legend": {"title": "stage", "orient": "none", "legendX": 684, "legendY": 201, "symbolType": "M-0.837,0L0.837,0M0.22,0A0.22,0.22,0,1,1,-0.22,0A0.22,0.22,0,1,1,0.22,0Z",
    "encode": {"entries": {"update": {"fill": {"value": {"gradient": "linear", "x1": 0, "y1": 0, "x2": 1, "y2": 0, "stops": [{"offset": 0, "color": "#f2f2f2"}, {"offset": 0.49, "color": "#f2f2f2"}, {"offset": 0.49, "color": "#ffffff"}, {"offset": 1, "color": "#ffffff"}]}}, "height": {"value": 45}, "noBound": {"value": false}}}, "legend": {"update": {"strokeWidth": {"value": 3}}}}}},
  "strokeDash": {"field": "source", "type": "nominal", "scale": {"domain": ["Ouellet and Ste Marie 2018", "Yamamoto et al. 2014"], "range": [[1, 0], [4.7, 4.7]]},
   "legend": {"title": "source", "orient": "none", "legendX": 369, "legendY": 14,
    "encode": {"entries": {"update": {"fill": {"value": {"gradient": "linear", "x1": 0, "y1": 0, "x2": 1, "y2": 0, "stops": [{"offset": 0, "color": "#f2f2f2"}, {"offset": 0.1126, "color": "#f2f2f2"}, {"offset": 0.1126, "color": "#ffffff"}, {"offset": 1, "color": "#ffffff"}]}}, "height": {"value": 45}, "noBound": {"value": false}}}, "symbols": {"update": {"shape": {"signal": "datum.value === 'Yamamoto et al. 2014' ? 'M-0.837,0L0.837,0M0,-0.307L0.265,0.153L-0.265,0.153Z' : 'M-0.837,0L0.837,0M0.22,0A0.22,0.22,0,1,1,-0.22,0A0.22,0.22,0,1,1,0.22,0Z'"}, "fill": {"value": "#000000"}, "stroke": {"value": "#000000"}, "strokeWidth": {"value": 2}, "size": {"value": 1849}, "opacity": {"value": 1}}}, "legend": {"update": {"strokeWidth": {"value": 3}}}}}},
  "shape": {"field": "source", "type": "nominal", "scale": {"domain": ["Ouellet and Ste Marie 2018", "Yamamoto et al. 2014"], "range": ["circle", "M0,-1.556L1.347,0.778L-1.347,0.778Z"]}, "legend": null}}}
]
}
